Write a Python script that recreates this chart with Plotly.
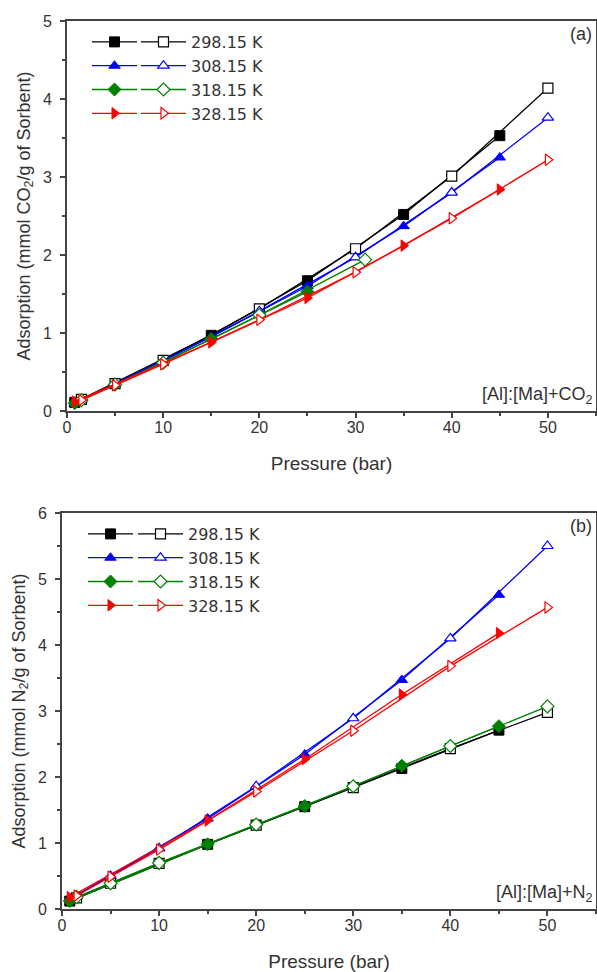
import plotly.graph_objects as go

# ---------------- data ----------------
temps = ["298.15 K", "308.15 K", "318.15 K", "328.15 K"]
colors = ["#000000", "#0000ff", "#008000", "#ff0000"]
symbols = ["square", "triangle-up", "diamond", "triangle-right"]

# (a) CO2 : filled series
co2_filled_p = [
    [0.8, 15, 25, 35, 45],
    [0.8, 15, 25, 35, 45],
    [0.8, 15, 25],
    [0.8, 15, 25, 35, 45],
]
co2_filled_v = [
    [0.11, 0.97, 1.67, 2.52, 3.53],
    [0.10, 0.95, 1.60, 2.37, 3.25],
    [0.10, 0.92, 1.53],
    [0.12, 0.88, 1.45, 2.12, 2.84],
]
# (a) CO2 : open series
co2_open_p = [
    [1.5, 5, 10, 20, 30, 40, 50],
    [1.5, 5, 10, 20, 30, 40, 50],
    [1.5, 5, 10, 20, 31],
    [1.5, 5, 10, 20, 30, 40, 50],
]
co2_open_v = [
    [0.15, 0.35, 0.65, 1.31, 2.08, 3.01, 4.14],
    [0.15, 0.35, 0.64, 1.28, 1.97, 2.80, 3.76],
    [0.14, 0.34, 0.62, 1.23, 1.94],
    [0.14, 0.33, 0.60, 1.17, 1.78, 2.47, 3.22],
]

# (b) N2 : filled series
n2_filled_p = [
    [0.8, 15, 25, 35, 45],
    [0.8, 15, 25, 35, 45],
    [0.8, 15, 25, 35, 45],
    [0.8, 15, 25, 35, 45],
]
n2_filled_v = [
    [0.12, 0.98, 1.55, 2.13, 2.71],
    [0.15, 1.37, 2.34, 3.47, 4.76],
    [0.12, 0.98, 1.56, 2.17, 2.77],
    [0.18, 1.34, 2.27, 3.25, 4.18],
]
# (b) N2 : open series
n2_open_p = [
    [1.5, 5, 10, 20, 30, 40, 50],
    [1.5, 5, 10, 20, 30, 40, 50],
    [1.5, 5, 10, 20, 30, 40, 50],
    [1.5, 5, 10, 20, 30, 40, 50],
]
n2_open_v = [
    [0.17, 0.39, 0.69, 1.27, 1.84, 2.43, 2.98],
    [0.20, 0.50, 0.92, 1.86, 2.89, 4.10, 5.50],
    [0.18, 0.39, 0.70, 1.28, 1.86, 2.47, 3.07],
    [0.20, 0.49, 0.90, 1.78, 2.70, 3.68, 4.57],
]

x_ticks = [0, 10, 20, 30, 40, 50]

# ---------------- figure ----------------
W, H = 597, 972
FONT = "Liberation Sans, Arial, sans-serif"
LEGFONT = "DejaVu Sans, sans-serif"
TXT = "#333333"
AX = "#444444"

fig = go.Figure()

def add_panel(fp, fv, op, ov, xa, ya, leg_f, leg_o):
    for i in range(4):
        fig.add_trace(go.Scatter(
            x=fp[i], y=fv[i], mode="lines+markers", name=" ",
            xaxis=xa, yaxis=ya, legend=leg_f,
            line=dict(color=colors[i], width=1.3),
            marker=dict(symbol=symbols[i], size=10, color=colors[i],
                        line=dict(color=colors[i], width=1)),
        ))
        fig.add_trace(go.Scatter(
            x=op[i], y=ov[i], mode="lines+markers", name=temps[i],
            xaxis=xa, yaxis=ya, legend=leg_o,
            line=dict(color=colors[i], width=1.3),
            marker=dict(symbol=symbols[i], size=10, color="white",
                        line=dict(color=colors[i], width=1.2)),
        ))

add_panel(co2_filled_p, co2_filled_v, co2_open_p, co2_open_v, "x", "y", "legend", "legend2")
add_panel(n2_filled_p, n2_filled_v, n2_open_p, n2_open_v, "x2", "y2", "legend3", "legend4")

def px_x(p):
    return p / W

def px_y(p):
    return 1 - p / H

axis_common = dict(
    showline=True, linecolor=AX, linewidth=2, mirror=True,
    ticks="outside", ticklen=5, tickwidth=1.5, tickcolor=AX,
    showgrid=False, zeroline=False, automargin=False,
    tickfont=dict(family=FONT, size=16, color=TXT),
)

xt = dict(text="Pressure (bar)", font=dict(family=FONT, size=19, color=TXT), standoff=21)

fig.update_layout(
    width=W, height=H,
    margin=dict(l=0, r=0, t=0, b=0),
    paper_bgcolor="white", plot_bgcolor="white",
    font=dict(family=FONT, color=TXT),
    xaxis=dict(domain=[px_x(67), px_x(596)], anchor="y", range=[0, 55],
               tickvals=x_ticks, ticklabelstandoff=-4,
               minor=dict(dtick=5, tick0=0, ticks="outside", ticklen=3, tickcolor=AX),
               title=xt, **axis_common),
    yaxis=dict(domain=[px_y(411), px_y(21)], anchor="x", range=[0, 5], dtick=1,
               ticklabelstandoff=5,
               minor=dict(dtick=0.5, tick0=0, ticks="outside", ticklen=3, tickcolor=AX),
               title=dict(text="Adsorption (mmol CO<sub>2</sub>/g of Sorbent)",
                          font=dict(family=FONT, size=18, color=TXT), standoff=8),
               **axis_common),
    xaxis2=dict(domain=[px_x(62), px_x(596)], anchor="y2", range=[0, 55],
                tickvals=x_ticks, ticklabelstandoff=-4,
                minor=dict(dtick=5, tick0=0, ticks="outside", ticklen=3, tickcolor=AX),
                title=xt, **axis_common),
    yaxis2=dict(domain=[px_y(909), px_y(513)], anchor="x2", range=[0, 6], dtick=1,
                ticklabelstandoff=5,
                minor=dict(dtick=0.5, tick0=0, ticks="outside", ticklen=3, tickcolor=AX),
                title=dict(text="Adsorption (mmol N<sub>2</sub>/g of Sorbent)",
                           font=dict(family=FONT, size=18, color=TXT), standoff=8),
                **axis_common),
)

leg_common = dict(bgcolor="rgba(0,0,0,0)", borderwidth=0, itemwidth=45,
                  font=dict(family=LEGFONT, size=16, color=TXT),
                  xanchor="left", yanchor="top", traceorder="normal",
                  itemclick=False, itemdoubleclick=False)
fig.update_layout(
    legend=dict(x=px_x(87), y=px_y(25), **leg_common),
    legend2=dict(x=px_x(136), y=px_y(25), **leg_common),
    legend3=dict(x=px_x(83), y=px_y(517), **leg_common),
    legend4=dict(x=px_x(133), y=px_y(517), **leg_common),
)

ann_font = dict(family=FONT, size=18, color=TXT)
fig.add_annotation(text="(a)", xref="x domain", yref="y domain", x=1, y=1,
                   xanchor="right", yanchor="top", showarrow=False, font=ann_font, xshift=-2, yshift=-1)
fig.add_annotation(text="[Al]:[Ma]+CO<sub>2</sub>", xref="x domain", yref="y domain", x=1, y=0,
                   xanchor="right", yanchor="bottom", showarrow=False, font=ann_font, xshift=-1, yshift=2)
fig.add_annotation(text="(b)", xref="x2 domain", yref="y2 domain", x=1, y=1,
                   xanchor="right", yanchor="top", showarrow=False, font=ann_font, xshift=-2, yshift=-1)
fig.add_annotation(text="[Al]:[Ma]+N<sub>2</sub>", xref="x2 domain", yref="y2 domain", x=1, y=0,
                   xanchor="right", yanchor="bottom", showarrow=False, font=ann_font, xshift=-1, yshift=2)

fig.write_html(
    "out.html",
    config={"displayModeBar": False},
    post_script="document.body.style.margin='0';document.body.style.padding='0';"
                "document.body.style.overflow='hidden';",
)
